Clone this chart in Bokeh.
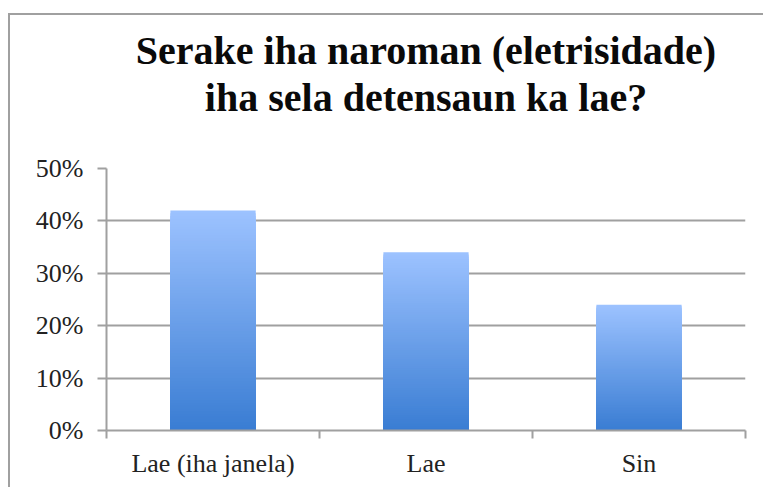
from bokeh.plotting import figure
from bokeh.models import Range1d, FixedTicker, NumeralTickFormatter, Title, Spacer
from bokeh.layouts import column, row
from bokeh.embed import file_html
from bokeh.resources import INLINE

# ---- data ----
categories = ["Lae (iha janela)", "Lae", "Sin"]
values = [0.42, 0.34, 0.24]
y_ticks = [0.0, 0.1, 0.2, 0.3, 0.4, 0.5]
title_lines = ["Serake iha naroman (eletrisidade)", "iha sela detensaun ka lae?"]

GRID = "#a0a0a0"
TOP_RGB = (156, 194, 255)
BOT_RGB = (58, 125, 211)
N = 80
BAR_W = 0.40

p = figure(width=755, height=474, output_backend="svg", toolbar_location=None,
           x_range=Range1d(0, len(categories)), y_range=Range1d(0, 0.5),
           min_border_left=96, min_border_right=20, min_border_bottom=59, min_border_top=153)
p.title = None
p.outline_line_color = None
p.background_fill_color = "white"
p.border_fill_color = "white"

# gradient bars: stacked slices drawn from tallest (lightest) to shortest (darkest)
centers = [i + 0.5 for i in range(len(categories))]
for k in range(N - 1, -1, -1):
    f = k / (N - 1)
    r = int(round(BOT_RGB[0] + (TOP_RGB[0] - BOT_RGB[0]) * f))
    g = int(round(BOT_RGB[1] + (TOP_RGB[1] - BOT_RGB[1]) * f))
    b = int(round(BOT_RGB[2] + (TOP_RGB[2] - BOT_RGB[2]) * f))
    tops = [v * (k + 1) / N for v in values]
    p.vbar(x=centers, top=tops, bottom=0, width=BAR_W,
           fill_color=f"#{r:02x}{g:02x}{b:02x}", line_color=None)

# title: blank spacer panel next to the frame, then the two centred lines
p.add_layout(Title(text=" ", text_font_size="10px", standoff=36), "above")
p.add_layout(Title(text=title_lines[1], align="center", text_font="Liberation Serif",
                   text_font_size="40px", text_font_style="bold", text_color="#0a0a0a",
                   standoff=0), "above")
p.add_layout(Title(text=title_lines[0], align="center", text_font="Liberation Serif",
                   text_font_size="40px", text_font_style="bold", text_color="#0a0a0a",
                   standoff=0), "above")

# y axis
ya = p.yaxis[0]
ya.ticker = FixedTicker(ticks=y_ticks)
ya.formatter = NumeralTickFormatter(format="0%")
ya.axis_line_color = GRID
ya.axis_line_width = 2
ya.major_tick_line_color = GRID
ya.major_tick_line_width = 2
ya.major_tick_out = 9
ya.major_tick_in = 0
ya.minor_tick_line_color = None
ya.major_label_text_font = "Liberation Serif"
ya.major_label_text_font_size = "26px"
ya.major_label_text_color = "#222222"
ya.major_label_standoff = 14

# x axis: labels at centers, ticks at category boundaries
xa = p.xaxis[0]
xa.ticker = FixedTicker(ticks=centers, minor_ticks=list(range(len(categories) + 1)))
xa.major_label_overrides = {c: lab for c, lab in zip(centers, categories)}
xa.axis_line_color = GRID
xa.axis_line_width = 2
xa.major_tick_line_color = None
xa.major_tick_out = 0
xa.major_tick_in = 0
xa.minor_tick_line_color = GRID
xa.minor_tick_line_width = 2
xa.minor_tick_out = 8
xa.minor_tick_in = 0
xa.major_label_text_font = "Liberation Serif"
xa.major_label_text_font_size = "26px"
xa.major_label_text_color = "#222222"
xa.major_label_standoff = 10

p.xgrid.grid_line_color = None
p.ygrid.grid_line_color = GRID
p.ygrid.grid_line_width = 2
p.ygrid.ticker = FixedTicker(ticks=y_ticks)

p.styles = {"box-shadow": "-2px -2px 0 0 #a0a0a0"}

layout = column(Spacer(height=15, width=10), row(Spacer(width=10, height=10), p))
open("out.html", "w").write(file_html(layout, INLINE))
